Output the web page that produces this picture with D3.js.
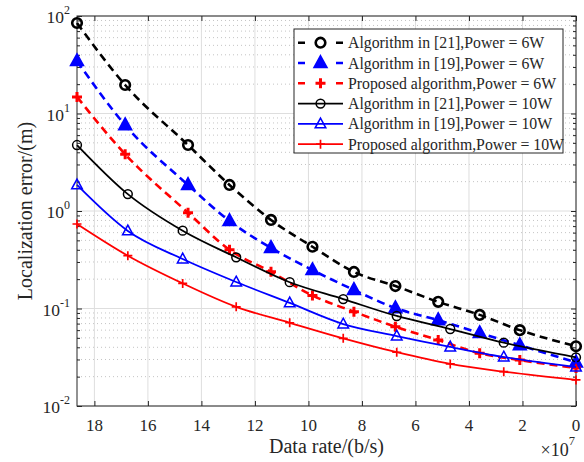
<!DOCTYPE html>
<html>
<head>
<meta charset="utf-8">
<script src="https://cdn.jsdelivr.net/npm/d3@7"></script>
<style>
  body { margin: 0; background: #fff; }
  text { font-family: "Liberation Serif", "Times New Roman", serif; fill: #262626; }
</style>
</head>
<body>
<div id="chart"></div>
<script>
// x in units of 1e7 b/s
var xDashed = [18.65, 16.85, 14.5, 12.95, 11.4, 9.85, 8.3, 6.75, 5.15, 3.6, 2.1, 0];
var xSolid = [18.65, 16.75, 14.7, 12.7, 10.7, 8.7, 6.7, 4.7, 2.7, 0];

var alg21_6W = [84.8, 19.6, 4.75, 1.85, 0.81, 0.43, 0.237, 0.17, 0.117, 0.086, 0.060, 0.041];
var alg19_6W = [34.5, 7.6, 1.85, 0.79, 0.418, 0.248, 0.155, 0.101, 0.076, 0.056, 0.042, 0.028];
var prop_6W = [14.8, 3.82, 0.96, 0.40, 0.238, 0.136, 0.0927, 0.065, 0.0475, 0.0347, 0.0296, 0.0245];
var alg21_10W = [4.75, 1.49, 0.628, 0.335, 0.186, 0.125, 0.0838, 0.0616, 0.0446, 0.0316];
var alg19_10W = [1.85, 0.624, 0.322, 0.187, 0.114, 0.0693, 0.0522, 0.0403, 0.0318, 0.025];
var prop_10W = [0.736, 0.348, 0.181, 0.104, 0.0714, 0.0494, 0.0356, 0.027, 0.0225, 0.0185];

var seriesNames = ["Algorithm in [21],Power = 6W", "Algorithm in [19],Power = 6W",
    "Proposed algorithm,Power = 6W", "Algorithm in [21],Power = 10W",
    "Algorithm in [19],Power = 10W", "Proposed algorithm,Power = 10W"];
var xTicks = [18, 16, 14, 12, 10, 8, 6, 4, 2, 0];
var yDecades = [-2, -1, 0, 1, 2];

var series = [
    {name: seriesNames[0], x: xDashed, y: alg21_6W, color: "#000000", dashed: true, marker: "circle"},
    {name: seriesNames[1], x: xDashed, y: alg19_6W, color: "#0000ff", dashed: true, marker: "triangle"},
    {name: seriesNames[2], x: xDashed, y: prop_6W, color: "#ff0000", dashed: true, marker: "plus"},
    {name: seriesNames[3], x: xSolid, y: alg21_10W, color: "#000000", dashed: false, marker: "circle"},
    {name: seriesNames[4], x: xSolid, y: alg19_10W, color: "#0000ff", dashed: false, marker: "triangle"},
    {name: seriesNames[5], x: xSolid, y: prop_10W, color: "#ff0000", dashed: false, marker: "plus"}
];

var W = 584, H = 462;
var pLeft = 77, pRight = 576, pTop = 16, pBottom = 406;

var svg = d3.select("#chart").append("svg")
    .attr("width", W)
    .attr("height", H);

svg.append("rect").attr("width", W).attr("height", H).attr("fill", "#fff");

var x = d3.scaleLinear().domain([18.65, 0]).range([pLeft, pRight]);
var y = d3.scaleLog().domain([0.01, 100]).range([pBottom, pTop]);

// minor y values
var minors = [];
yDecades.slice(0, -1).forEach(function(d){
    for (var k = 2; k <= 9; k++) minors.push(k * Math.pow(10, d));
});

var grid = svg.append("g");
grid.selectAll(".minor").data(minors).enter().append("line")
    .attr("x1", pLeft).attr("x2", pRight)
    .attr("y1", function(d){ return y(d); })
    .attr("y2", function(d){ return y(d); })
    .style("stroke", "#c4c4c4")
    .style("stroke-width", 1)
    .style("stroke-dasharray", "1,3");
grid.selectAll(".vmaj").data(xTicks).enter().append("line")
    .attr("x1", function(d){ return x(d); }).attr("x2", function(d){ return x(d); })
    .attr("y1", pTop).attr("y2", pBottom)
    .style("stroke", "#dedede");
grid.selectAll(".hmaj").data(yDecades).enter().append("line")
    .attr("x1", pLeft).attr("x2", pRight)
    .attr("y1", function(d){ return y(Math.pow(10, d)); })
    .attr("y2", function(d){ return y(Math.pow(10, d)); })
    .style("stroke", "#dedede");

// axes with inward ticks
var axisCol = "#262626";
function styleAxis(g){
    g.select(".domain").remove();
    g.selectAll("line").style("stroke", axisCol);
    g.selectAll("text").remove();
}
var yTickVals = yDecades.map(function(d){ return Math.pow(10, d); });
svg.append("g").attr("transform", "translate(0," + pBottom + ")")
    .call(d3.axisBottom(x).tickValues(xTicks).tickSize(-5)).call(styleAxis);
svg.append("g").attr("transform", "translate(0," + pTop + ")")
    .call(d3.axisTop(x).tickValues(xTicks).tickSize(-5)).call(styleAxis);
svg.append("g").attr("transform", "translate(" + pLeft + ",0)")
    .call(d3.axisLeft(y).tickValues(yTickVals).tickSize(-5)).call(styleAxis);
svg.append("g").attr("transform", "translate(" + pRight + ",0)")
    .call(d3.axisRight(y).tickValues(yTickVals).tickSize(-5)).call(styleAxis);
svg.append("g").attr("transform", "translate(" + pLeft + ",0)")
    .call(d3.axisLeft(y).tickValues(minors).tickSize(-3)).call(styleAxis);
svg.append("g").attr("transform", "translate(" + pRight + ",0)")
    .call(d3.axisRight(y).tickValues(minors).tickSize(-3)).call(styleAxis);

svg.append("rect")
    .attr("x", pLeft).attr("y", pTop)
    .attr("width", pRight - pLeft).attr("height", pBottom - pTop)
    .style("fill", "none").style("stroke", axisCol).style("stroke-width", 1);

// tick labels
svg.selectAll(".xl").data(xTicks).enter().append("text")
    .attr("x", function(d){ return x(d); })
    .attr("y", 431)
    .attr("text-anchor", "middle")
    .style("font-size", "17px")
    .text(function(d){ return d; });

var yl = svg.selectAll(".yl").data(yDecades).enter().append("text")
    .attr("x", 70)
    .attr("y", function(d){ return y(Math.pow(10, d)) + 7; })
    .attr("text-anchor", "end")
    .style("font-size", "17.5px");
yl.append("tspan").text("10");
yl.append("tspan").attr("dy", -9).style("font-size", "12px")
    .text(function(d){ return d < 0 ? "-" + (-d) : d; });

svg.append("text")
    .attr("transform", "translate(32," + ((pTop + pBottom) / 2) + ") rotate(-90)")
    .attr("text-anchor", "middle")
    .style("font-size", "20px")
    .text("Localization error/(m)");

svg.append("text")
    .attr("x", (pLeft + pRight) / 2).attr("y", 453)
    .attr("text-anchor", "middle")
    .style("font-size", "20px")
    .text("Data rate/(b/s)");

var mult = svg.append("text").attr("x", 575).attr("y", 456)
    .attr("text-anchor", "end").style("font-size", "18px");
mult.append("tspan").text("\u00d710");
mult.append("tspan").attr("dy", -11).style("font-size", "12.5px").text("7");

// markers
function drawMarker(g, type, color, thick){
    var sw = thick ? 2.6 : 1.5;
    if (type == "circle") {
        g.append("circle").attr("r", thick ? 4.8 : 4.4)
            .style("fill", "none").style("stroke", color).style("stroke-width", sw);
    } else if (type == "triangle") {
        g.append("path").attr("d", thick ? "M0,-6.2L5.6,4L-5.6,4Z" : "M0,-5.8L5.3,3.9L-5.3,3.9Z")
            .style("fill", thick ? color : "none")
            .style("stroke", color).style("stroke-width", sw)
            .style("stroke-linejoin", "miter");
    } else {
        var s = thick ? 5 : 4.5;
        g.append("path").attr("d", "M" + (-s) + ",0H" + s + "M0," + (-s) + "V" + s)
            .style("stroke", color).style("stroke-width", thick ? 3 : 1.7);
    }
}

var line = d3.line()
    .x(function(d){ return x(d[0]); })
    .y(function(d){ return y(d[1]); })
    .curve(d3.curveMonotoneX);

series.forEach(function(s){
    var pts = s.x.map(function(v, i){ return [v, s.y[i]]; });
    var g = svg.append("g");
    g.append("path").datum(pts)
        .attr("d", line)
        .style("fill", "none")
        .style("stroke", s.color)
        .style("stroke-width", s.dashed ? 2.6 : 1.8)
        .style("stroke-dasharray", s.dashed ? "8,5" : null);
    pts.forEach(function(p){
        var m = g.append("g").attr("transform", "translate(" + x(p[0]) + "," + y(p[1]) + ")");
        drawMarker(m, s.marker, s.color, s.dashed);
    });
});

// legend
var lg = svg.append("g");
lg.append("rect")
    .attr("x", 294).attr("y", 29).attr("width", 269).attr("height", 124)
    .style("fill", "#fff").style("stroke", axisCol).style("stroke-width", 1);
series.forEach(function(s, i){
    var ry = 42.7 + i * 20.3;
    lg.append("line")
        .attr("x1", 298).attr("x2", 343).attr("y1", ry).attr("y2", ry)
        .style("stroke", s.color)
        .style("stroke-width", s.dashed ? 2.6 : 1.8)
        .style("stroke-dasharray", s.dashed ? "7,31" : null);
    var m = lg.append("g").attr("transform", "translate(320.5," + ry + ")");
    drawMarker(m, s.marker, s.color, s.dashed);
    lg.append("text").attr("x", 348).attr("y", ry + 5.5)
        .style("font-size", "15.8px")
        .text(s.name);
});
</script>
</body>
</html>
